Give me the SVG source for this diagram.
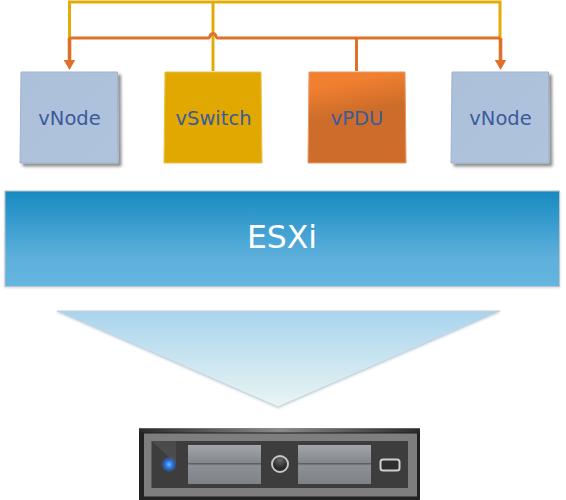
<svg xmlns="http://www.w3.org/2000/svg" width="566" height="500" viewBox="0 0 566 500">
<style>
.lbl{font-family:"DejaVu Sans","Noto Sans",sans-serif;font-size:19.5px;fill:#3b5a9c;text-anchor:middle}
.wire{fill:none;stroke-width:3}
.y{stroke:#e2ac08}
.o{stroke:#df7029}
.drop{stroke-width:3.6}
.vnode{fill:url(#gNode);stroke:#9fb2cf;stroke-width:1;filter:url(#sh)}
</style>
<defs>
<linearGradient id="gNode" x1="0" y1="0" x2="1" y2="1"><stop offset="0" stop-color="#adc0da"/><stop offset="1" stop-color="#b0c3dc"/></linearGradient>
<linearGradient id="gPdu" x1=".35" y1="0" x2=".55" y2="1"><stop offset="0" stop-color="#f07f30"/><stop offset=".12" stop-color="#f07f30"/><stop offset=".45" stop-color="#cd6d2a"/><stop offset="1" stop-color="#cf6c2b"/></linearGradient>
<linearGradient id="gEsx" x1="0" y1="0" x2="0" y2="1"><stop offset="0" stop-color="#178ac1"/><stop offset=".7" stop-color="#5eb0dc"/><stop offset="1" stop-color="#64b5df"/></linearGradient>
<linearGradient id="gTri" x1="0" y1="0" x2="0" y2="1"><stop offset="0" stop-color="#a9d4ee"/><stop offset="1" stop-color="#e9f5f3"/></linearGradient>
<linearGradient id="gBay" x1="0" y1="0" x2="0" y2="1"><stop offset="0" stop-color="#a2a5a9"/><stop offset=".45" stop-color="#85888c"/><stop offset=".55" stop-color="#8c8f93"/><stop offset="1" stop-color="#7f8286"/></linearGradient>
<linearGradient id="gFrame" x1="0" y1="0" x2="1" y2="0"><stop offset="0" stop-color="#2a2a2a"/><stop offset=".5" stop-color="#8a8a8a"/><stop offset="1" stop-color="#2a2a2a"/></linearGradient>
<radialGradient id="gLed"><stop offset="0" stop-color="#6cc0ff"/><stop offset=".45" stop-color="#2a74ea"/><stop offset="1" stop-color="#2a74ea" stop-opacity="0"/></radialGradient>
<radialGradient id="gKnob" cx=".5" cy=".25"><stop offset="0" stop-color="#6a6a6a"/><stop offset="1" stop-color="#2a2a2a"/></radialGradient>
<filter id="sh" x="-10%" y="-10%" width="125%" height="125%"><feDropShadow dx="3" dy="3" stdDeviation="1.500" flood-color="#000" flood-opacity=".45"/></filter>
<filter id="soft" x="-5%" y="-5%" width="110%" height="115%"><feDropShadow dx="0" dy="1" stdDeviation="1.200" flood-color="#8fb8e0" flood-opacity=".5"/></filter>
<filter id="blur" x="-2%" y="-5%" width="104%" height="110%"><feGaussianBlur stdDeviation=".5"/></filter>
<marker id="arr" markerUnits="userSpaceOnUse" markerWidth="11" markerHeight="12" refX="1" refY="6" orient="auto"><path d="M0 0L10.500 6L0 12Z" fill="#df7029"/></marker>
</defs>
<g id="connectors">
<path class="wire y" d="M69.500 38V2H500V38"/>
<path class="wire y" d="M213 2V71"/>
<path class="wire o" d="M69.500 38H208.500C210.500 38 209.500 33.500 213 33.500C216.500 33.500 215.500 38 217.500 38H500"/>
<path class="wire o" d="M356.500 38V71"/>
<path class="wire o drop" d="M69.500 38V60.500" marker-end="url(#arr)"/>
<path class="wire o drop" d="M500.500 38V60.500" marker-end="url(#arr)"/>
</g>
<g id="vnode1"><path class="vnode" d="M21 72H117.500L118 163H20Z"/><text class="lbl" x="69.500" y="124.500">vNode</text></g>
<g id="vswitch"><path d="M165 72H261L262 163H164Z" fill="#e0a800" stroke="#eec04a"/><text class="lbl" x="213.500" y="124.500">vSwitch</text></g>
<g id="vpdu"><path d="M309 72H405L406 163H308Z" fill="url(#gPdu)" stroke="#e79a68"/><text class="lbl" x="357" y="124.500">vPDU</text></g>
<g id="vnode2"><path class="vnode" d="M452 72H548.500L549 163H451Z"/><text class="lbl" x="500.500" y="124.500">vNode</text></g>
<g id="esxi"><rect x="5" y="191" width="554.500" height="95.500" fill="url(#gEsx)" stroke="#bfc4c8" filter="url(#soft)"/><text x="282" y="248" font-family="'DejaVu Sans','Noto Sans',sans-serif" font-size="31.500" fill="#fff" text-anchor="middle">ESXi</text></g>
<g id="funnel"><path d="M57 311H500L278 407Z" fill="url(#gTri)" stroke="#cfcfcf" filter="url(#soft)"/></g>
<g id="server" filter="url(#blur)">
<rect x="139" y="428.500" width="281" height="71.500" fill="#222"/>
<rect x="139" y="428.500" width="281" height="4" fill="url(#gFrame)"/>
<rect x="144" y="433.500" width="273" height="63" fill="#7e7e7e"/>
<rect x="151.500" y="441" width="256.500" height="47" fill="#3c3c3c"/>
<path d="M151.500 441L176 464V441Z" fill="#4c4c4c"/>
<rect x="188" y="445" width="73" height="39" fill="url(#gBay)"/>
<rect x="188" y="463" width="73" height="1.500" fill="#5f6063"/>
<rect x="298" y="445" width="73" height="39" fill="url(#gBay)"/>
<rect x="298" y="463" width="73" height="1.500" fill="#5f6063"/>
<circle cx="169" cy="464.500" r="8" fill="url(#gLed)"/>
<circle cx="280" cy="464" r="8" fill="url(#gKnob)" stroke="#c6c6c6" stroke-width="2"/>
<rect x="380.500" y="459.500" width="19" height="11" rx="2.500" fill="#2f2f2f" stroke="#cfcfcf" stroke-width="2"/>
</g>
</svg>
